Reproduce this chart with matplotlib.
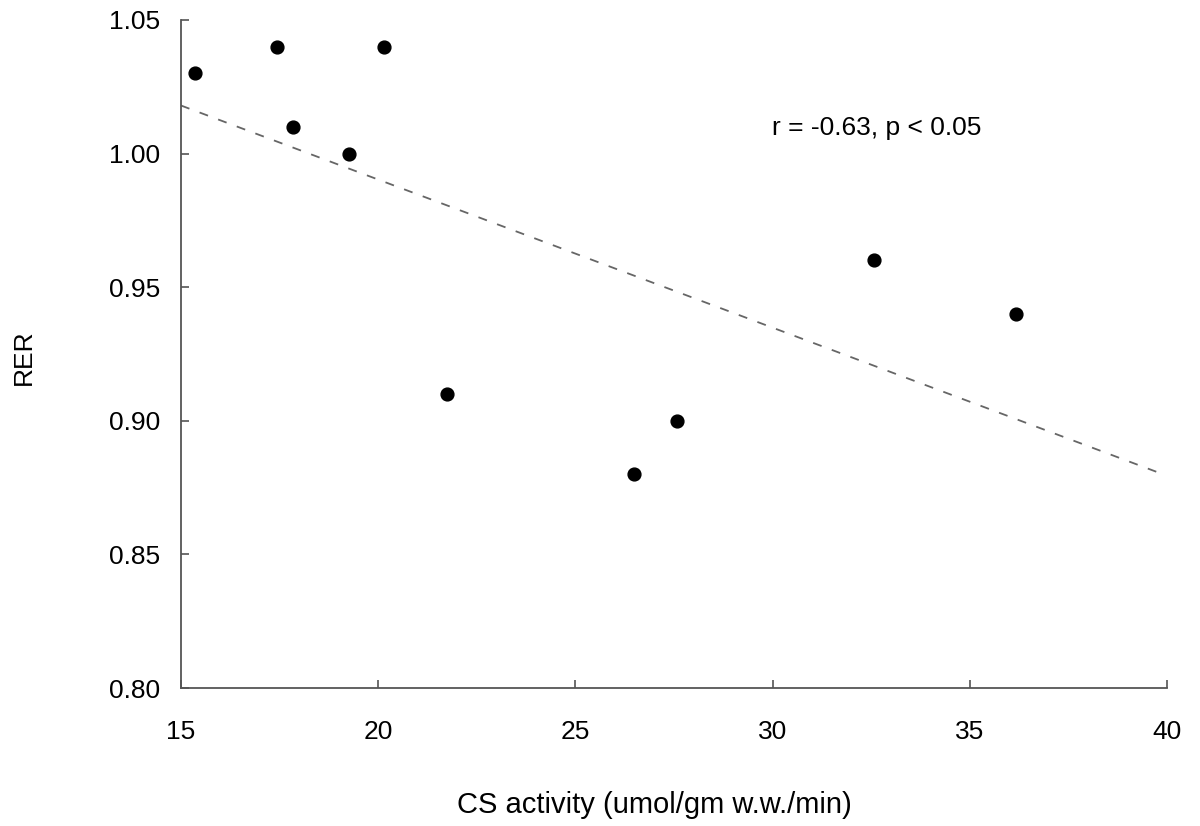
import matplotlib.pyplot as plt

# CS activity vs RER
cs_activity = [15.35, 17.43, 17.84, 19.26, 20.15, 21.74, 26.49, 27.58, 32.57, 36.17]
rer = [1.030, 1.040, 1.010, 1.000, 1.040, 0.910, 0.880, 0.900, 0.960, 0.940]

# regression line end points (as drawn)
fit_x = [15.0, 39.9]
fit_y = [1.018, 0.880]

x_ticks = [15, 20, 25, 30, 35, 40]
y_ticks = [0.80, 0.85, 0.90, 0.95, 1.00, 1.05]

plt.rcParams['font.family'] = ['Liberation Sans', 'DejaVu Sans']

fig = plt.figure(figsize=(12, 8.26), dpi=100)
ax = fig.add_axes([0.1508, 0.167, 0.8217, 0.8088])

ax.plot(fit_x, fit_y, linestyle=(0, (5, 6)), color='#666666', linewidth=1.3)
ax.scatter(cs_activity, rer, s=85, color='black', zorder=3)

ax.set_xlim(15, 40)
ax.set_ylim(0.80, 1.05)
ax.set_xticks(x_ticks)
ax.set_yticks(y_ticks)
ax.set_yticklabels(['%.2f' % v for v in y_ticks])

for side in ['top', 'right']:
    ax.spines[side].set_visible(False)
for side in ['left', 'bottom']:
    ax.spines[side].set_color('#555555')
    ax.spines[side].set_linewidth(1.3)

ax.tick_params(direction='in', length=6, width=1.2, color='#555555',
               labelsize=19)
ax.tick_params(axis='x', pad=23)
ax.tick_params(axis='y', pad=15)

ax.text(0.599, 0.838, 'r = -0.63, p < 0.05', transform=ax.transAxes,
        fontsize=19, ha='left', va='center')

fig.text(0.545, 0.025, 'CS activity (umol/gm w.w./min)', fontsize=21,
         ha='center', va='center')
fig.text(0.02, 0.567, 'RER', fontsize=19, rotation=90,
         ha='center', va='center')

fig.savefig('out.png', dpi=100, facecolor='white')
